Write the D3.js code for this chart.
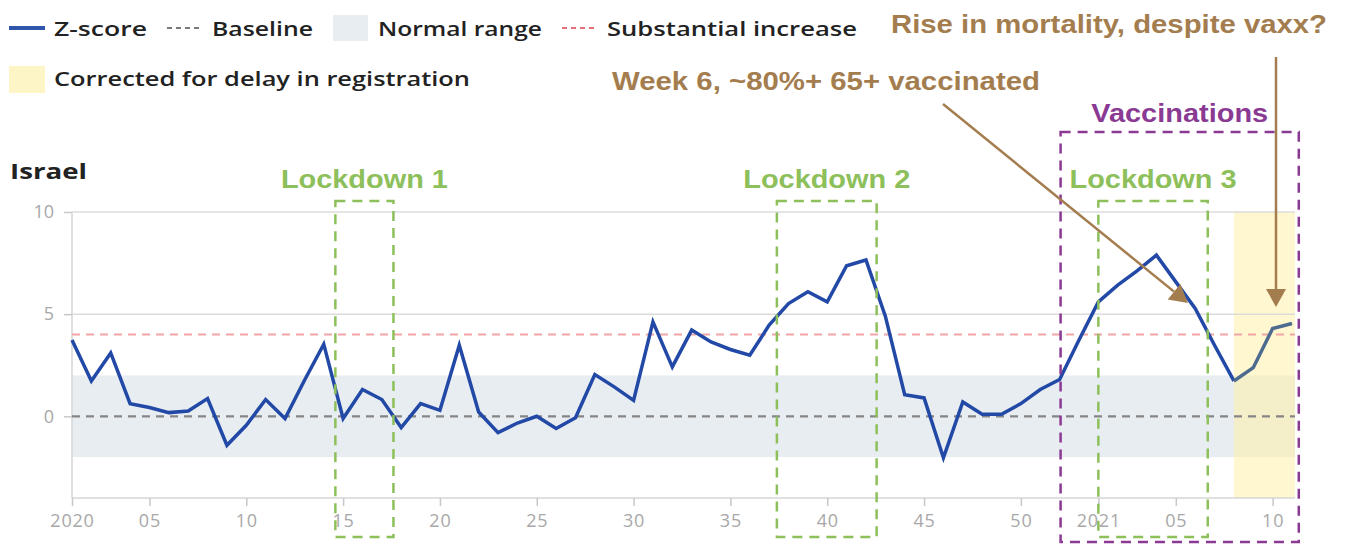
<!DOCTYPE html>
<html>
<head>
<meta charset="utf-8">
<script src="https://cdn.jsdelivr.net/npm/d3@7"></script>
<style>
  body { margin: 0; background: #fff; }
  svg { display: block; }
</style>
</head>
<body>
<svg id="chart" width="1346" height="544"></svg>
<script>
// ISO weeks, 2020-W01 .. 2021-W11
const weeks = [
  "2020-01","2020-02","2020-03","2020-04","2020-05","2020-06","2020-07","2020-08","2020-09","2020-10",
  "2020-11","2020-12","2020-13","2020-14","2020-15","2020-16","2020-17","2020-18","2020-19","2020-20",
  "2020-21","2020-22","2020-23","2020-24","2020-25","2020-26","2020-27","2020-28","2020-29","2020-30",
  "2020-31","2020-32","2020-33","2020-34","2020-35","2020-36","2020-37","2020-38","2020-39","2020-40",
  "2020-41","2020-42","2020-43","2020-44","2020-45","2020-46","2020-47","2020-48","2020-49","2020-50",
  "2020-51","2020-52","2020-53","2021-01","2021-02","2021-03","2021-04","2021-05","2021-06","2021-07",
  "2021-08","2021-09","2021-10","2021-11"
];

// z-score per week
const zScores = [
  3.73, 1.73, 3.1, 0.62, 0.43, 0.18, 0.26, 0.87, -1.42, -0.44,
  0.82, -0.11, 1.75, 3.53, -0.11, 1.31, 0.82, -0.55, 0.62, 0.29,
  3.48, 0.21, -0.8, -0.33, 0, -0.6, -0.07, 2.04, 1.44, 0.78,
  4.62, 2.42, 4.22, 3.64, 3.27, 2.99, 4.46, 5.52, 6.1, 5.6,
  7.37, 7.65, 4.9, 1.06, 0.9, -2.03, 0.7, 0.1, 0.1, 0.62,
  1.31, 1.8, 3.73, 5.6, 6.42, 7.12, 7.89, 6.58, 5.28, 3.48,
  1.73, 2.38, 4.3, 4.54
];

// first week that is corrected for delay in registration
const correctedFrom = "2021-08";

const xTickWeeks = ["2020-01","2020-05","2020-10","2020-15","2020-20","2020-25","2020-30","2020-35",
                    "2020-40","2020-45","2020-50","2021-01","2021-05","2021-10"];
const xTickLabels = ["2020","05","10","15","20","25","30","35","40","45","50","2021","05","10"];
const yTicks = [0, 5, 10];

const baseline = 0;
const normalRange = [-2, 2];
const substantialIncrease = 4;

// periods in week-index units
const lockdowns = [
  { label: "Lockdown 1", from: 13.6, to: 16.6 },
  { label: "Lockdown 2", from: 36.4, to: 41.55 },
  { label: "Lockdown 3", from: 53.0, to: 58.65 }
];
const vaccinations = { label: "Vaccinations", from: 51.05, to: 63.35 };

const svg = d3.select("#chart");
svg.selectAll("*").remove();

const plotLeft = 72, plotEnd = 1292, plotTop = 212, plotBottom = 498;

const x = d3.scaleLinear().domain([0, weeks.length - 1]).range([plotLeft, plotEnd]);
const y = d3.scaleLinear().domain([-4, 10]).range([plotBottom, plotTop]);
const xi = w => weeks.indexOf(w);
const plotRight = plotEnd + 3;

const legendFont = "'Open Sans', sans-serif";
const noteFont = "'Liberation Sans', Arial, sans-serif";
const brown = "#a47d4f";
const green = "#8dc05a";
const purple = "#8b3a93";

// the source picture is a bit wider than tall, so stretch text to its width
const fit = (sel, w) => sel.attr("textLength", w).attr("lengthAdjust", "spacingAndGlyphs");

// normal range band
svg.append("rect")
  .attr("x", plotLeft).attr("width", plotRight - plotLeft)
  .attr("y", y(normalRange[1]))
  .attr("height", y(normalRange[0]) - y(normalRange[1]))
  .attr("fill", "#e8edf2");

// corrected area
svg.append("rect")
  .attr("x", x(xi(correctedFrom)))
  .attr("width", plotRight - x(xi(correctedFrom)))
  .attr("y", y(10)).attr("height", plotBottom - y(10))
  .attr("fill", "#fff1a8").attr("opacity", 0.55);

// gridlines
svg.append("g")
  .selectAll("line")
  .data(yTicks.filter(d => d !== baseline))
  .join("line")
  .attr("x1", plotLeft).attr("x2", plotRight)
  .attr("y1", d => y(d)).attr("y2", d => y(d))
  .attr("stroke", "#dcdcdc").attr("stroke-width", 1.5);

// axes
const yAxis = svg.append("g")
  .attr("transform", `translate(${plotLeft},0)`)
  .call(d3.axisLeft(y).tickValues(yTicks).tickSize(8).tickPadding(10));
yAxis.select(".domain").attr("stroke", "#d6d6d6").attr("stroke-width", 1.5)
  .attr("d", `M0,${plotTop}V${plotBottom}`);
yAxis.selectAll(".tick line").attr("stroke", "#c8c8c8").attr("stroke-width", 1.5);
yAxis.selectAll(".tick text")
  .attr("fill", "#a8a8a8").attr("font-family", legendFont).attr("font-size", 18);

const xAxis = svg.append("g")
  .attr("transform", `translate(0,${plotBottom})`)
  .call(d3.axisBottom(x)
    .tickValues(xTickWeeks.map(xi))
    .tickFormat((d, i) => xTickLabels[i])
    .tickSize(8).tickPadding(8));
xAxis.select(".domain").attr("stroke", "#d6d6d6").attr("stroke-width", 1.5)
  .attr("d", `M${plotLeft},0H${plotRight}`);
xAxis.selectAll(".tick line").attr("stroke", "#c8c8c8").attr("stroke-width", 1.5);
xAxis.selectAll(".tick text")
  .attr("fill", "#a8a8a8").attr("font-family", legendFont).attr("font-size", 18)
  .attr("letter-spacing", 0.8);

// reference lines
svg.append("line")
  .attr("x1", plotLeft).attr("x2", plotRight)
  .attr("y1", y(baseline)).attr("y2", y(baseline))
  .attr("stroke", "#858585").attr("stroke-width", 2.2)
  .attr("stroke-dasharray", "8,6");
svg.append("line")
  .attr("x1", plotLeft).attr("x2", plotRight)
  .attr("y1", y(substantialIncrease)).attr("y2", y(substantialIncrease))
  .attr("stroke", "#f2a4a6").attr("stroke-width", 2)
  .attr("stroke-dasharray", "8,6");

// z-score line
const line = d3.line().x(d => x(d.i)).y(d => y(d.v));
const points = zScores.map((v, i) => ({ i, v }));
const cut = xi(correctedFrom);
svg.append("path")
  .attr("d", line(points.slice(0, cut + 1)))
  .attr("fill", "none").attr("stroke", "#2349a7").attr("stroke-width", 3.5);
svg.append("path")
  .attr("d", line(points.slice(cut)))
  .attr("fill", "none").attr("stroke", "#4d6a8f").attr("stroke-width", 3.5);

// lockdown boxes
lockdowns.forEach(l => {
  svg.append("rect")
    .attr("x", x(l.from)).attr("width", x(l.to) - x(l.from))
    .attr("y", 201).attr("height", 336)
    .attr("fill", "none").attr("stroke", green).attr("stroke-width", 2.5)
    .attr("stroke-dasharray", "10,7");
  svg.append("text")
    .attr("x", (x(l.from) + x(l.to)) / 2).attr("y", 188)
    .attr("text-anchor", "middle")
    .attr("font-family", noteFont).attr("font-weight", "bold").attr("font-size", 25)
    .attr("fill", green)
    .call(fit, 167)
    .text(l.label);
});

// vaccination box
svg.append("rect")
  .attr("x", x(vaccinations.from)).attr("width", x(vaccinations.to) - x(vaccinations.from))
  .attr("y", 132).attr("height", 410)
  .attr("fill", "none").attr("stroke", purple).attr("stroke-width", 2.5)
  .attr("stroke-dasharray", "10,7");
svg.append("text")
  .attr("x", (x(vaccinations.from) + x(vaccinations.to)) / 2).attr("y", 122)
  .attr("text-anchor", "middle")
  .attr("font-family", noteFont).attr("font-weight", "bold").attr("font-size", 26)
  .attr("fill", purple)
  .call(fit, 177)
  .text(vaccinations.label);

// annotations with arrows
const arrow = (x1, y1, x2, y2) => {
  const a = Math.atan2(y2 - y1, x2 - x1), len = 18, w = 10;
  const bx = x2 - len * Math.cos(a), by = y2 - len * Math.sin(a);
  svg.append("line")
    .attr("x1", x1).attr("y1", y1).attr("x2", bx).attr("y2", by)
    .attr("stroke", brown).attr("stroke-width", 2.5);
  svg.append("path")
    .attr("d", `M${x2},${y2}L${bx - w * Math.sin(a)},${by + w * Math.cos(a)}L${bx + w * Math.sin(a)},${by - w * Math.cos(a)}Z`)
    .attr("fill", brown);
};
svg.append("text")
  .attr("x", 612).attr("y", 90)
  .attr("font-family", noteFont).attr("font-weight", "bold").attr("font-size", 25)
  .attr("fill", brown)
  .call(fit, 428)
  .text("Week 6, ~80%+ 65+ vaccinated");
arrow(943, 104, 1188, 303);
svg.append("text")
  .attr("x", 891).attr("y", 33)
  .attr("font-family", noteFont).attr("font-weight", "bold").attr("font-size", 25)
  .attr("fill", brown)
  .call(fit, 436)
  .text("Rise in mortality, despite vaxx?");
arrow(1276, 57, 1276, 307);

// title
svg.append("text")
  .attr("x", 10).attr("y", 179)
  .attr("font-family", legendFont).attr("font-weight", 700).attr("font-size", 22)
  .attr("fill", "#222")
  .call(fit, 77)
  .text("Israel");

// legend
const lg = svg.append("g").attr("font-family", legendFont).attr("font-weight", 600)
  .attr("font-size", 20).attr("fill", "#222");
lg.append("line").attr("x1", 9).attr("x2", 45).attr("y1", 28).attr("y2", 28)
  .attr("stroke", "#2f55ad").attr("stroke-width", 4);
lg.append("text").attr("x", 54).attr("y", 36).call(fit, 93).text("Z-score");
lg.append("line").attr("x1", 167).attr("x2", 203).attr("y1", 28).attr("y2", 28)
  .attr("stroke", "#7a7a7a").attr("stroke-width", 2).attr("stroke-dasharray", "5,4");
lg.append("text").attr("x", 212).attr("y", 36).call(fit, 101).text("Baseline");
lg.append("rect").attr("x", 333).attr("y", 15).attr("width", 35).attr("height", 26)
  .attr("fill", "#e8edf2");
lg.append("text").attr("x", 378).attr("y", 36).call(fit, 164).text("Normal range");
lg.append("line").attr("x1", 562).attr("x2", 598).attr("y1", 28).attr("y2", 28)
  .attr("stroke", "#e8707c").attr("stroke-width", 2).attr("stroke-dasharray", "5,4");
lg.append("text").attr("x", 607).attr("y", 36).call(fit, 250).text("Substantial increase");
lg.append("rect").attr("x", 9).attr("y", 66).attr("width", 36).attr("height", 27)
  .attr("fill", "#fdf5c6");
lg.append("text").attr("x", 54).attr("y", 86).call(fit, 416).text("Corrected for delay in registration");
</script>
</body>
</html>
